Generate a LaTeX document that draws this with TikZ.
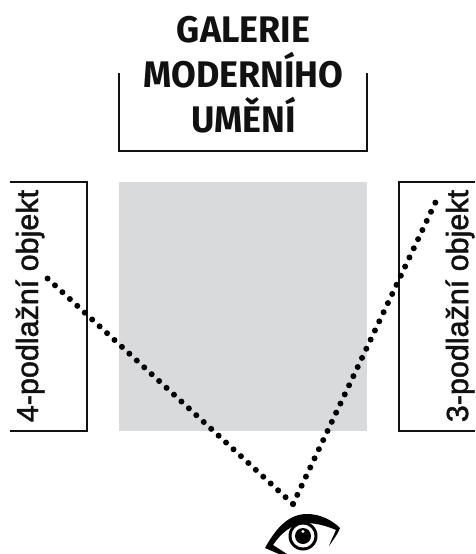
\documentclass[tikz,border=0pt]{standalone}
\usepackage{fontspec}
\setmainfont{Fira Sans}
\newfontfamily\sidefont[FakeBold=1.6]{Liberation Sans}
\definecolor{inkc}{HTML}{111111}
\definecolor{greyc}{HTML}{D9DADB}
\tikzset{
 wall/.style={draw=inkc,line width=1.7pt},
 sight/.style={draw=black,line width=6pt,line cap=round,dash pattern=on 0pt off 10.1pt},
 title/.style={text=inkc,font=\bfseries\fontsize{37}{37}\selectfont,inner sep=0pt,anchor=base},
 side/.style={text=inkc,font=\sidefont\fontsize{30.5}{31}\selectfont,inner sep=0pt,rotate=90,anchor=base}
}
\begin{document}
\begin{tikzpicture}[x=1pt,y=-1pt]
\useasboundingbox (0,0) rectangle (475,554);
\fill[greyc] (119,182) rectangle (367,431);
\node[title] (t1) at (243.5,42) {\scalebox{0.97}[1]{GALERIE}};
\node[title] (t2) at (243.5,87) {\scalebox{0.97}[1]{MODERNÍHO}};
\node[title] (t3) at (243.5,132.5) {\scalebox{0.97}[1]{UMĚNÍ}};
\draw[wall] (119,73) -- (119,151) -- (367,151) -- (367,73);
\draw[wall] (10,182) -- (87,182) -- (87,431) -- (10,431);
\draw[wall] (475,182) -- (399,182) -- (399,431) -- (475,431);
\node[side] (l) at (38,306) {4-podlažní objekt};
\node[side] (r) at (468,306) {3-podlažní objekt};
\coordinate (la) at (47,278);
\coordinate (ra) at (438,197);
\coordinate (v) at (293,504);
\draw[sight] (v) -- (la);
\draw[sight] (v) -- (ra);
% eye
\fill[black] (265,548) .. controls (277,526) and (290,514) .. (307,514)
  .. controls (320,514) and (332,520) .. (340,528)
  .. controls (338,534) and (333,540) .. (329,546)
  .. controls (331,540) and (334,535) .. (336,530)
  .. controls (327,526) and (316,523) .. (305,523)
  .. controls (292,524) and (281,533) .. (273,545)
  -- (287,554) -- (279,554) -- cycle;
\fill[black] (303,536) circle (14.5);
\fill[white] (303,536) circle (11.5);
\fill[black] (303,536) circle (8);
\fill[white] (303,531.5) circle (1.6);
\end{tikzpicture}
\end{document}
